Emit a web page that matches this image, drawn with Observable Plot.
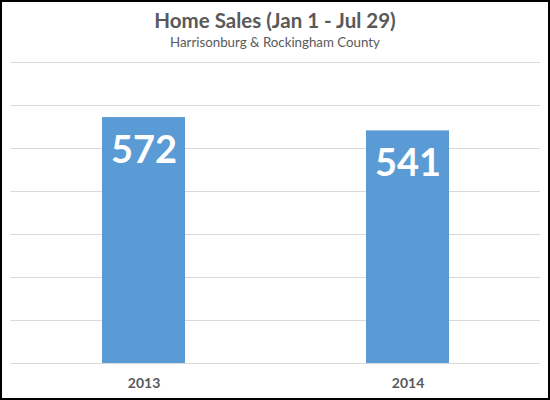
<!DOCTYPE html>
<html>
<head>
<meta charset="utf-8">
<script src="https://cdn.jsdelivr.net/npm/d3@7"></script>
<script src="https://cdn.jsdelivr.net/npm/@observablehq/plot@0.6"></script>
<style>
  html, body { margin: 0; padding: 0; background: #fff; }
  #wrap { position: relative; width: 550px; height: 400px; overflow: hidden; }
  #frame { position: absolute; left: 0; top: 0; width: 550px; height: 400px; box-sizing: border-box; border: 2px solid #000; pointer-events: none; }
  #title { position: absolute; left: 0; width: 550px; top: 8px; text-align: center; font-family: Lato, sans-serif; font-weight: bold; font-size: 20.5px; line-height: 24px; color: #595959; }
  #subtitle { position: absolute; left: 0; width: 550px; top: 34px; text-align: center; font-family: Lato, sans-serif; font-size: 13.3px; line-height: 16px; color: #595959; }
  #chart { position: absolute; left: 0; top: 0; }
</style>
</head>
<body>
<div id="wrap">
  <div id="chart"></div>
  <div id="title">Home Sales (Jan 1 - Jul 29)</div>
  <div id="subtitle">Harrisonburg &amp; Rockingham County</div>
  <div id="frame"></div>
</div>
<script>
const years = ["2013", "2014"];
const sales = [572, 541];
const gridTicks = [0, 100, 200, 300, 400, 500, 600, 700];

const data = years.map((y, i) => ({year: y, sales: sales[i]}));

const chart = Plot.plot({
  width: 550,
  height: 400,
  marginTop: 62,
  marginBottom: 37,
  marginLeft: 10.5,
  marginRight: 10,
  style: {background: "transparent", color: "#595959"},
  x: {domain: years, paddingInner: 0.686, paddingOuter: 0.343, label: null},
  y: {domain: [0, 700], axis: null},
  marks: [
    Plot.ruleY(gridTicks, {stroke: "#d9d9d9", strokeWidth: 1}),
    Plot.barY(data, {x: "year", y: "sales", fill: "#5b9bd5"}),
    Plot.text(data, {x: "year", y: "sales", text: d => String(d.sales), dy: 33, fill: "#fff",
      fontSize: 38, fontWeight: "bold", fontFamily: "Lato, sans-serif", lineAnchor: "middle"}),
    Plot.axisX({tickSize: 0, tickPadding: 15, fontSize: 14, fontWeight: "bold", fontFamily: "Lato, sans-serif", fill: "#595959", label: null})
  ]
});
document.getElementById("chart").appendChild(chart);
</script>
</body>
</html>
